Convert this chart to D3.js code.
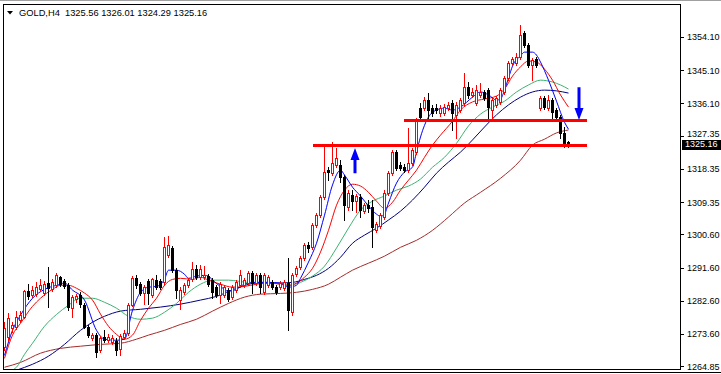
<!DOCTYPE html>
<html><head><meta charset="utf-8">
<script src="https://cdn.jsdelivr.net/npm/d3@7"></script>
<style>html,body{margin:0;padding:0;background:#fff;}svg{display:block;}text{font-family:"Liberation Sans",Arial,sans-serif;}</style>
</head><body>
<svg id="c" width="721" height="374"></svg>
<script>
const symbol = "GOLD,H4";
const open = [1270.00,1272.71,1275.15,1275.42,1277.32,1278.14,1285.19,1284.10,1284.38,1285.73,
1284.65,1287.36,1285.73,1286.82,1288.99,1287.90,1286.82,1280.58,1283.02,1284.10,
1281.39,1275.42,1272.44,1273.25,1269.18,1272.71,1271.90,1271.35,1271.62,1269.46,
1272.71,1273.80,1281.39,1288.72,1287.09,1284.65,1287.90,1284.10,1288.17,1287.90,
1287.63,1294.96,1296.86,1290.89,1282.75,1284.92,1286.82,1288.44,1291.16,1288.99,
1288.99,1289.26,1288.17,1286.27,1284.10,1284.10,1285.46,1283.56,1285.46,1286.82,
1286.82,1287.36,1290.07,1287.36,1289.53,1284.92,1286.82,1287.63,1286.27,1286.27,
1286.00,1287.36,1279.49,1289.80,1291.70,1294.14,1297.67,1297.13,1303.10,1305.81,
1310.69,1318.02,1317.20,1319.37,1319.37,1316.12,1307.98,1311.23,1309.60,1310.69,
1306.89,1308.52,1307.98,1301.74,1302.82,1305.27,1311.78,1317.20,1322.90,1319.37,
1318.83,1318.02,1319.92,1322.90,1334.84,1334.84,1337.01,1334.84,1334.84,1333.48,
1333.48,1334.84,1336.20,1332.94,1334.30,1336.20,1340.54,1338.37,1336.20,1338.37,
1339.18,1339.72,1334.30,1335.65,1336.47,1339.18,1342.98,1347.05,1347.05,1348.67,
1355.19,1351.93,1346.50,1348.13,1334.84,1337.55,1334.84,1337.01,1334.30,1332.40,
1328.06,1325.56];
const high = [1276.78,1279.22,1276.78,1279.76,1279.76,1285.46,1287.09,1286.55,1287.63,1288.44,
1287.90,1291.70,1288.44,1290.07,1289.26,1288.44,1287.36,1284.10,1284.38,1284.92,
1281.93,1275.97,1273.80,1273.80,1272.98,1274.61,1273.52,1273.25,1272.44,1273.52,
1274.61,1281.93,1289.26,1289.53,1287.63,1286.82,1288.44,1288.72,1289.53,1288.44,
1299.84,1300.11,1297.40,1291.43,1286.27,1287.36,1288.72,1293.06,1292.24,1292.24,
1291.97,1289.80,1288.72,1286.82,1287.63,1286.82,1286.00,1286.82,1288.17,1290.89,
1288.72,1290.61,1290.61,1290.07,1290.07,1290.07,1289.53,1288.17,1286.82,1287.90,
1288.17,1294.14,1290.07,1291.97,1294.69,1298.21,1298.48,1303.64,1306.35,1311.23,
1324.26,1318.83,1325.62,1323.99,1320.73,1316.66,1312.59,1312.59,1311.51,1311.51,
1309.06,1309.88,1309.88,1303.91,1306.35,1312.59,1317.75,1323.44,1323.44,1320.19,
1319.65,1329.41,1323.99,1332.13,1336.20,1337.82,1338.91,1335.65,1335.92,1335.65,
1335.92,1336.47,1337.01,1336.47,1337.55,1344.33,1341.89,1340.27,1341.08,1341.62,
1339.72,1340.27,1337.55,1338.10,1340.27,1343.52,1347.59,1348.67,1349.76,1357.36,
1355.73,1352.47,1348.40,1348.67,1338.10,1338.10,1338.37,1337.55,1334.84,1332.94,
1329.68,1326.01];
const low = [1269.18,1271.90,1274.07,1274.88,1276.78,1277.87,1283.02,1283.56,1283.83,1285.19,
1284.10,1280.85,1285.19,1286.27,1286.55,1286.00,1280.04,1278.14,1282.21,1280.85,
1275.15,1272.71,1271.90,1267.29,1268.64,1271.35,1271.35,1270.81,1267.83,1267.83,
1272.17,1273.25,1281.12,1286.00,1284.10,1281.66,1281.66,1283.56,1285.73,1285.73,
1286.82,1294.41,1290.34,1283.29,1280.31,1284.38,1286.27,1287.90,1288.44,1288.44,
1288.44,1286.55,1283.29,1283.56,1281.93,1283.56,1282.48,1283.02,1284.92,1286.27,
1286.27,1286.82,1284.65,1286.82,1284.65,1284.38,1286.27,1285.73,1284.38,1285.73,
1285.46,1274.61,1278.68,1289.26,1291.16,1293.60,1295.77,1296.58,1302.55,1305.27,
1310.15,1315.30,1316.66,1318.83,1314.76,1304.45,1307.16,1307.16,1306.62,1305.27,
1306.35,1306.62,1297.13,1301.20,1302.28,1304.72,1311.23,1316.66,1318.02,1318.02,
1317.47,1317.47,1319.37,1322.36,1331.86,1334.30,1332.13,1332.67,1333.48,1332.67,
1332.94,1334.30,1328.87,1326.70,1333.76,1335.65,1337.55,1337.82,1335.65,1337.82,
1337.01,1332.13,1332.13,1335.11,1335.92,1338.64,1342.44,1346.50,1346.50,1348.13,
1351.39,1345.96,1342.44,1345.96,1334.30,1334.57,1334.30,1331.58,1331.86,1326.70,
1324.26,1324.29];
const close = [1275.15,1277.87,1275.97,1278.14,1278.68,1285.19,1283.83,1285.46,1286.27,1286.82,
1287.09,1286.00,1287.63,1289.53,1287.09,1286.55,1280.85,1283.56,1283.83,1281.66,
1275.42,1273.25,1273.25,1268.64,1272.44,1271.90,1272.71,1272.44,1269.18,1272.98,
1273.80,1281.39,1288.72,1286.82,1284.65,1286.27,1284.65,1288.44,1286.27,1286.27,
1297.13,1297.67,1290.89,1285.46,1285.46,1286.82,1288.17,1291.16,1288.99,1291.16,
1289.53,1287.09,1284.92,1284.10,1287.09,1286.27,1283.02,1286.27,1287.63,1289.53,
1288.17,1290.07,1287.36,1289.53,1286.27,1289.53,1288.99,1286.27,1284.92,1287.36,
1287.63,1280.04,1289.53,1291.43,1294.14,1297.67,1296.86,1303.10,1305.81,1310.69,
1317.47,1317.47,1319.92,1321.27,1316.12,1308.52,1311.78,1309.60,1310.96,1307.16,
1308.52,1307.71,1302.55,1303.37,1305.81,1311.78,1317.20,1322.90,1318.56,1318.56,
1318.02,1319.92,1323.44,1331.58,1332.40,1337.01,1334.30,1333.48,1334.30,1334.84,
1335.11,1335.65,1333.48,1335.65,1337.01,1340.54,1338.37,1339.18,1339.72,1339.18,
1337.55,1335.11,1337.01,1337.55,1339.72,1342.98,1347.05,1348.13,1348.67,1354.64,
1351.93,1346.50,1347.86,1346.50,1337.55,1335.11,1337.01,1333.76,1332.40,1328.06,
1325.35,1325.16];

// moving-average lines: [bar index, price]
const maBlue = [[0,1267.8],[2,1274.6],[4,1278.7],[7,1283.3],[10,1285.7],[13,1286.8],[15,1287.4],[17,1285.5],[20,1282.8],[23,1274.6],[25,1272.2],[28,1271.9],[30,1272.2],[32,1280.0],[34,1284.9],[36,1286.3],[38,1286.5],[40,1288.4],[41,1290.9],[43,1290.9],[45,1289.8],[46,1288.7],[48,1289.3],[50,1289.5],[51,1289.3],[52,1288.2],[54,1286.5],[56,1285.2],[58,1285.7],[60,1287.1],[63,1287.6],[66,1287.6],[69,1287.4],[71,1286.3],[73,1286.8],[74,1288.7],[76,1293.1],[78,1298.2],[80,1305.8],[82,1314.0],[84,1318.0],[85,1316.7],[87,1313.4],[89,1311.0],[91,1308.3],[93,1306.1],[94,1305.5],[95,1306.1],[96,1309.1],[98,1314.5],[100,1317.5],[102,1318.8],[103,1322.9],[104,1327.0],[106,1332.4],[108,1334.3],[110,1334.8],[112,1334.3],[114,1335.1],[117,1337.8],[119,1339.2],[121,1338.4],[123,1337.0],[124,1337.3],[125,1339.7],[126,1343.0],[127,1346.2],[129,1349.0],[130,1350.0],[132,1350.0],[133,1349.2],[134,1347.3],[136,1342.4],[138,1336.7],[140,1331.0],[141,1329.1]];
const maRed = [[0,1267.0],[2,1273.3],[4,1276.5],[7,1281.1],[9,1283.3],[12,1285.7],[14,1286.8],[16,1286.8],[18,1286.0],[20,1284.7],[22,1282.8],[24,1279.0],[26,1275.7],[28,1273.5],[30,1272.2],[32,1273.3],[34,1277.3],[36,1280.6],[38,1283.3],[40,1286.8],[42,1288.4],[44,1288.7],[47,1288.4],[49,1289.0],[51,1288.2],[54,1287.1],[57,1286.3],[60,1286.5],[63,1287.1],[66,1287.4],[69,1287.1],[71,1286.8],[73,1287.4],[75,1289.0],[77,1291.4],[79,1295.8],[81,1301.7],[83,1308.5],[85,1312.6],[87,1314.2],[89,1313.7],[91,1312.0],[93,1309.6],[95,1307.7],[97,1309.3],[99,1312.6],[101,1315.3],[103,1318.0],[105,1321.5],[107,1324.8],[109,1327.5],[112,1331.3],[114,1334.3],[117,1336.5],[120,1337.3],[123,1338.1],[125,1340.0],[127,1343.5],[129,1346.0],[131,1347.6],[133,1347.3],[135,1345.4],[137,1342.4],[139,1338.4],[141,1335.1]];
const maGreen = [[0,1263.0],[3,1264.6],[5,1268.1],[7,1271.1],[10,1275.7],[13,1278.9],[16,1281.4],[19,1283.3],[22,1283.3],[25,1282.2],[28,1280.6],[31,1278.4],[34,1277.6],[37,1277.9],[40,1279.5],[43,1281.9],[46,1284.9],[49,1287.1],[52,1288.2],[56,1288.2],[61,1287.6],[66,1287.6],[71,1286.8],[74,1287.6],[77,1289.3],[80,1292.0],[83,1296.9],[86,1302.3],[89,1307.2],[92,1309.6],[95,1311.0],[98,1312.6],[101,1313.7],[104,1315.6],[107,1318.8],[110,1321.5],[113,1325.3],[116,1330.0],[119,1333.2],[122,1335.1],[125,1336.7],[128,1339.2],[131,1341.1],[134,1342.4],[137,1341.9],[139,1341.1],[141,1340.0]];
const maNavy = [[0,1262.7],[3,1263.8],[7,1265.4],[11,1267.6],[15,1270.8],[19,1274.6],[22,1276.8],[25,1278.4],[29,1279.8],[34,1280.3],[39,1280.9],[44,1281.7],[49,1282.8],[53,1283.8],[58,1286.0],[63,1287.4],[68,1287.4],[72,1287.6],[75,1288.4],[78,1289.5],[81,1291.4],[84,1294.4],[87,1298.2],[90,1300.4],[93,1302.3],[96,1304.5],[99,1306.9],[102,1309.9],[105,1313.4],[108,1317.2],[111,1320.2],[114,1322.9],[117,1326.2],[120,1329.7],[123,1333.0],[126,1335.7],[129,1337.8],[132,1339.2],[135,1339.7],[138,1339.5],[141,1338.9]];
const maBrown = [[0,1264.6],[4,1265.9],[9,1268.4],[14,1269.7],[19,1270.3],[24,1270.8],[29,1271.1],[33,1272.2],[36,1273.3],[40,1274.6],[44,1276.2],[48,1277.6],[52,1279.8],[56,1281.9],[60,1283.6],[64,1284.4],[69,1284.6],[73,1284.9],[77,1285.7],[81,1287.1],[84,1289.0],[87,1290.9],[91,1292.8],[95,1294.7],[99,1297.1],[103,1299.0],[107,1301.7],[111,1305.3],[115,1309.1],[119,1312.0],[124,1315.8],[129,1320.7],[132,1324.8],[135,1326.4],[138,1328.1],[141,1328.9]];

const yTicks = [1354.10,1345.10,1336.10,1327.35,1318.35,1309.35,1300.60,1291.60,1282.60,1273.60,1264.85];
// horizontal levels: price, from bar, to bar
const levels = [[1331.7,100,145.75],[1324.8,77.25,145.75]];
// arrows: bar, tail price, tip price
const arrows = [[87.75,1317.2,1324.0],[143.75,1340.5,1331.6]];

const svg = d3.select("#c");
const W = 721, H = 374;
const plot = {l:4, t:5, r:680, b:369};
const n = close.length;
const x = d3.scaleLinear().domain([0, n-1]).range([4, 568]);
const y = d3.scaleLinear().domain([1264.85, 1354.10]).range([366.3, 37]);

svg.append("rect").attr("width",W).attr("height",H).attr("fill","#fff");
svg.append("defs").append("clipPath").attr("id","pc").append("rect")
  .attr("x",plot.l).attr("y",plot.t).attr("width",plot.r-plot.l).attr("height",plot.b-plot.t);

const g = svg.append("g").attr("clip-path","url(#pc)");

// MA lines
const line = d3.line().x(d=>x(d[0])+0.5).y(d=>y(d[1])).curve(d3.curveMonotoneX);
[[maBrown,"#a52a2a"],[maNavy,"#00007f"],[maGreen,"#3cb371"],[maRed,"#ff0000"],[maBlue,"#0000ff"]].forEach(([d,c])=>{
  g.append("path").datum(d).attr("d",line).attr("fill","none").attr("stroke",c).attr("stroke-width",1);
});

// candles
const cg = g.append("g").attr("shape-rendering","crispEdges");
d3.range(n).forEach(i=>{
  const cx = Math.round(x(i));
  const bull = close[i] >= open[i];
  const col = bull ? "#ff0000" : "#000000";
  cg.append("line").attr("x1",cx+0.5).attr("x2",cx+0.5)
    .attr("y1",Math.round(y(high[i]))).attr("y2",Math.round(y(low[i]))+1)
    .attr("stroke",col).attr("stroke-width",1);
  const yo = Math.round(y(open[i])), yc = Math.round(y(close[i]));
  if (bull) {
    const h = Math.max(1, yo-yc);
    cg.append("rect").attr("x",cx-0.5).attr("y",yc+0.5).attr("width",2).attr("height",h)
      .attr("fill","#fff").attr("stroke",col).attr("stroke-width",1);
  } else {
    const h = Math.max(1, yc-yo);
    cg.append("rect").attr("x",cx-1).attr("y",yo).attr("width",3).attr("height",h+1).attr("fill",col);
  }
});

// levels
levels.forEach(([p,a,b])=>{
  g.append("rect").attr("x",x(a)).attr("y",Math.round(y(p))-1.5).attr("width",x(b)-x(a)).attr("height",3)
   .attr("fill","#ff0000").attr("shape-rendering","crispEdges");
});

// arrows
arrows.forEach(([b,p0,p1])=>{
  const cx = x(b), y0 = y(p0), y1 = y(p1);
  const dir = y1 < y0 ? -1 : 1;
  const headLen = 12, hw = 4.5, sw = 1.5;
  const yh = y1 - dir*headLen;
  const path = `M${cx-sw},${y0} L${cx-sw},${yh} L${cx-hw},${yh} L${cx},${y1} L${cx+hw},${yh} L${cx+sw},${yh} L${cx+sw},${y0} Z`;
  g.append("path").attr("d",path).attr("fill","#0000ff");
});

// frame
svg.append("rect").attr("x",3.5).attr("y",4.5).attr("width",677).attr("height",365)
  .attr("fill","none").attr("stroke","#000").attr("stroke-width",1).attr("shape-rendering","crispEdges");
svg.append("line").attr("x1",0).attr("x2",W).attr("y1",0.5).attr("y2",0.5).attr("stroke","#a0a0a0");
svg.append("line").attr("x1",0).attr("x2",W).attr("y1",372.5).attr("y2",372.5).attr("stroke","#000");

// axis
const ax = svg.append("g").attr("transform","translate(681,0)")
  .call(d3.axisRight(y).tickValues(yTicks).tickSize(3).tickSizeOuter(0).tickPadding(3).tickFormat(d=>d.toFixed(2)));
ax.select(".domain").remove();
ax.selectAll("line").attr("stroke","#000").attr("shape-rendering","crispEdges");
ax.selectAll("text").attr("font-size",9).attr("fill","#000").attr("font-family","Liberation Sans, Arial, sans-serif")
  .attr("dy", d => d === 1327.35 ? "0.1em" : "0.32em");

// current price box
const last = close[n-1];
svg.append("rect").attr("x",682).attr("y",Math.round(y(last))-4).attr("width",39).attr("height",10).attr("fill","#000");
svg.append("text").attr("x",685).attr("y",y(last)+0.8).attr("dy","0.32em").attr("font-size",9).attr("fill","#fff")
  .text(last.toFixed(2));

// header
svg.append("path").attr("d","M7,11 L13,11 L10,14.5 Z").attr("fill","#000");
svg.append("text").attr("x",19).attr("y",16).attr("font-size",9.3).attr("fill","#000")
  .attr("xml:space","preserve").style("white-space","pre")
  .text(`${symbol}  ${open[n-1].toFixed(2)} ${high[n-1].toFixed(2)} ${low[n-1].toFixed(2)} ${close[n-1].toFixed(2)}`);
</script>
</body></html>
